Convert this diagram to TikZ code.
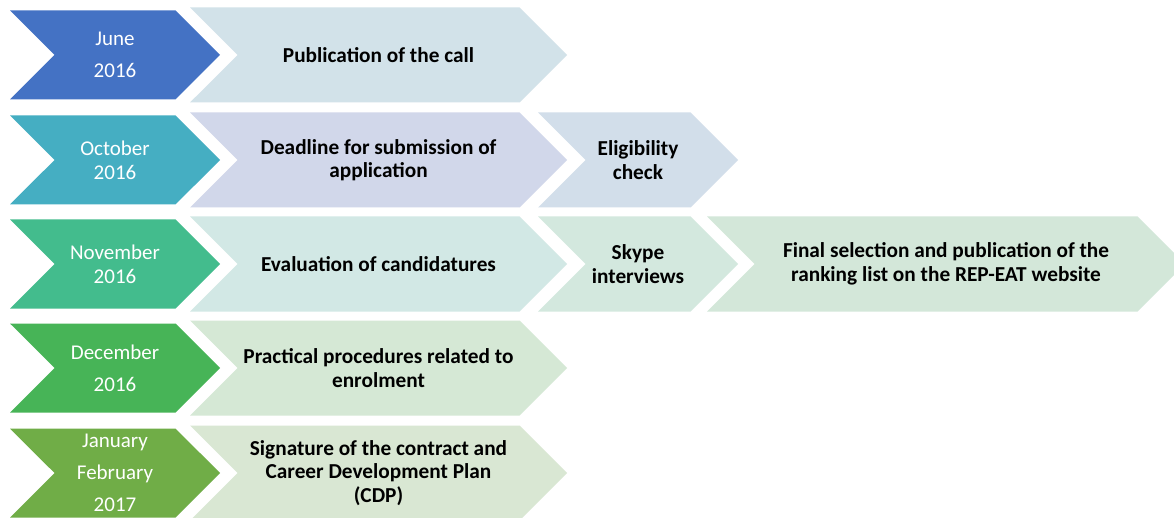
\documentclass[tikz,border=0pt]{standalone}
\usepackage{fontspec}
\setmainfont{Carlito}
\usetikzlibrary{shapes.symbols}
\definecolor{dA}{HTML}{4472C4}
\definecolor{dB}{HTML}{45AEC2}
\definecolor{dC}{HTML}{43BC8D}
\definecolor{dD}{HTML}{47B457}
\definecolor{dE}{HTML}{70AD47}
\definecolor{lA}{HTML}{D2E2E9}
\definecolor{lBa}{HTML}{D1D7EA}
\definecolor{lBb}{HTML}{D2DEEA}
\definecolor{lCa}{HTML}{D2E8E5}
\definecolor{lCb}{HTML}{D3E8DE}
\definecolor{lCc}{HTML}{D3E7D9}
\definecolor{lD}{HTML}{D5E8D5}
\definecolor{lE}{HTML}{D9E7D3}
\begin{document}
\begin{tikzpicture}[x=1pt,y=-1pt,
  chev/.style={signal, signal to=east, signal from=west, signal pointer angle=90,
    inner sep=0pt, outer sep=0pt, draw=none, align=center},
  datebox/.style={chev, minimum width=210pt, minimum height=89pt, text=white,
    font=\fontsize{21}{24}\selectfont},
  stepbox/.style={chev, minimum height=95pt, text=black,
    font=\fontsize{21.3}{23.5}\selectfont\bfseries},
  colA/.style={stepbox, minimum width=377pt},
  colB/.style={stepbox, minimum width=200pt},
  colC/.style={stepbox, minimum width=478pt}]
\useasboundingbox (0,0) rectangle (1174,518);
\fill[white] (0,0) rectangle (1174,518);
% row 1
\node[datebox, fill=dA] (d1) at (115,55) {June\\[8pt]2016};
\node[colA, fill=lA] (a1) at (378.5,55) {Publication of the call};
% row 2
\node[datebox, fill=dB] (d2) at (115,160) {October\\2016};
\node[colA, fill=lBa] (a2) at (378.5,160) {Deadline for submission of\\application};
\node[colB, fill=lBb] (b2) at (638,160) {Eligibility\\check};
% row 3
\node[datebox, fill=dC] (d3) at (115,264) {November\\2016};
\node[colA, fill=lCa] (a3) at (378.5,264) {Evaluation of candidatures};
\node[colB, fill=lCb] (b3) at (638,264) {Skype\\interviews};
\node[colC, fill=lCc] (c3) at (946,264) {Final selection and publication of the\\ranking list on the REP-EAT website};
% row 4
\node[datebox, fill=dD] (d4) at (115,368) {December\\[8pt]2016};
\node[colA, fill=lD] (a4) at (378.5,368) {Practical procedures related to\\enrolment};
% row 5
\node[datebox, fill=dE] (d5) at (115,473) {January\\[8pt]February\\[8pt]2017};
\node[colA, fill=lE] (a5) at (378.5,473) {Signature of the contract and\\Career Development Plan\\(CDP)};
\end{tikzpicture}
\end{document}
